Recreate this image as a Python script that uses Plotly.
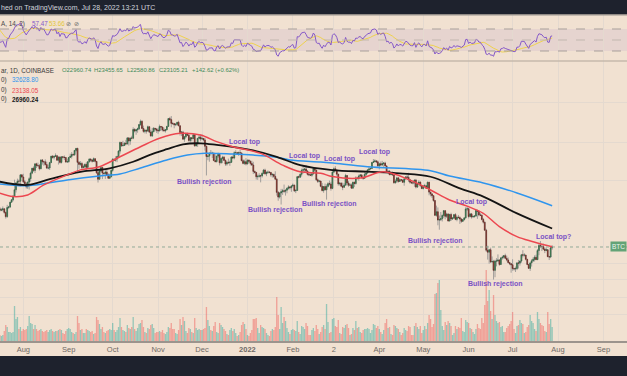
import numpy as np
import pandas as pd
import plotly.graph_objects as go

# ---------------- data (prices in thousand USD, volume in thousand BTC) ----------------
first_open = 35.04  # close of 2021-06-30
closes = [
    # Jul 2021
    33.53, 33.83, 34.66, 35.29, 33.69, 34.22, 33.86, 32.88, 33.81, 33.52, 34.24, 33.15, 32.70, 32.82, 31.78, 31.42,
    31.52, 31.78, 30.84, 29.79, 32.14, 32.29, 33.60, 34.27, 35.40, 37.28, 39.46, 40.03, 40.02, 42.21, 41.46,
    # Aug 2021
    39.85, 39.15, 38.19, 39.74, 40.87, 42.83, 44.61, 43.82, 46.28, 45.60, 45.56, 44.43, 47.82, 47.10, 47.05, 46.00,
    44.69, 44.70, 46.76, 49.34, 48.87, 49.29, 49.51, 47.70, 48.96, 46.85, 49.08, 48.90, 48.81, 46.99, 47.13,
    # Sep 2021
    48.81, 49.25, 50.03, 49.94, 51.77, 52.66, 46.86, 46.07, 46.40, 44.85, 45.16, 46.06, 44.96, 47.11, 48.15, 47.76,
    47.30, 48.31, 47.25, 42.99, 40.71, 43.57, 44.89, 42.84, 42.72, 43.21, 42.20, 41.03, 41.52, 43.82,
    # Oct 2021
    48.14, 47.65, 48.21, 49.24, 51.49, 55.34, 53.80, 53.96, 54.97, 54.68, 57.48, 56.01, 57.37, 57.35, 61.67, 60.88,
    61.53, 62.02, 64.28, 66.00, 62.20, 60.69, 61.31, 60.86, 63.09, 60.33, 58.46, 60.60, 62.25, 61.88, 61.32,
    # Nov 2021
    61.00, 63.23, 62.94, 61.44, 61.00, 61.53, 63.30, 67.55, 66.94, 64.88, 64.81, 64.16, 64.40, 65.50, 63.62, 60.11,
    60.36, 56.89, 58.07, 59.69, 58.73, 56.29, 57.57, 57.17, 58.96, 53.74, 54.74, 57.28, 57.80, 56.98,
    # Dec 2021
    57.23, 56.51, 53.60, 49.20, 49.38, 50.58, 50.49, 50.58, 47.57, 47.15, 49.39, 50.10, 46.72, 48.38, 48.89, 47.64,
    46.20, 46.85, 46.70, 46.88, 49.00, 48.60, 50.82, 50.83, 50.43, 50.80, 50.70, 47.54, 46.46, 47.12, 46.21,
    # Jan 2022
    47.74, 47.31, 46.44, 45.83, 43.43, 43.09, 41.55, 41.69, 41.86, 41.83, 42.74, 43.92, 42.59, 43.10, 43.18, 43.09,
    42.21, 42.38, 41.68, 40.70, 36.48, 35.07, 36.28, 36.66, 36.95, 36.82, 37.15, 37.71, 38.17, 37.92, 38.48,
    # Feb 2022
    38.74, 36.95, 37.08, 41.57, 41.41, 42.41, 43.84, 44.08, 44.34, 43.56, 42.39, 42.21, 42.07, 42.55, 44.56, 43.88,
    40.52, 40.00, 40.10, 38.37, 37.02, 38.27, 37.26, 38.34, 39.22, 39.11, 37.70, 43.19,
    # Mar 2022
    44.42, 43.92, 42.46, 39.15, 39.40, 38.42, 38.06, 38.74, 41.98, 39.44, 38.73, 38.81, 37.78, 39.67, 39.28, 41.14,
    40.95, 41.80, 42.20, 41.27, 41.02, 42.37, 42.90, 44.00, 44.33, 44.54, 46.83, 47.13, 47.44, 47.07, 45.53,
    # Apr 2022
    46.31, 45.83, 46.41, 46.60, 45.50, 43.17, 43.45, 42.28, 42.78, 42.16, 39.53, 40.08, 41.15, 39.94, 40.56, 40.39,
    39.68, 40.80, 41.50, 41.37, 40.48, 39.71, 39.46, 39.45, 40.43, 38.12, 39.24, 39.74, 38.60, 37.64,
    # May 2022
    38.47, 38.53, 37.75, 39.69, 36.55, 36.01, 35.47, 34.06, 30.10, 31.01, 28.94, 29.04, 29.28, 30.08, 31.30, 29.86,
    30.42, 28.70, 30.31, 29.20, 29.43, 30.28, 29.10, 29.65, 29.54, 29.20, 28.63, 29.03, 29.47, 31.73, 31.80,
    # Jun 2022
    29.80, 30.46, 29.70, 29.86, 29.91, 31.37, 31.13, 30.20, 30.11, 29.08, 28.42, 26.58, 22.49, 22.13, 22.58, 20.40,
    20.47, 19.01, 20.55, 20.56, 20.72, 19.97, 21.09, 21.23, 21.49, 21.03, 20.73, 20.28, 20.10, 19.93,
    # Jul 2022
    19.30, 19.24, 19.30, 20.23, 20.19, 20.55, 21.64, 21.59, 21.60, 20.85, 19.95, 19.33, 20.23, 20.58, 20.83, 21.20,
    20.79, 22.43, 23.40, 23.24, 23.16, 22.69, 22.45, 22.58, 21.31, 21.25, 22.96074, 23.10521,
]
highs = [
    35.05, 33.95, 34.95, 35.95, 35.30, 35.05, 34.90, 33.92, 34.10, 34.26, 34.60, 34.65, 33.33, 33.10, 33.20, 32.25,
    31.95, 32.42, 31.89, 31.06, 32.86, 32.58, 33.65, 34.48, 35.40, 40.55, 39.55, 40.90, 40.63, 42.30, 42.42,
    42.60, 40.45, 39.78, 39.95, 41.38, 43.39, 44.72, 45.31, 46.45, 46.70, 46.75, 46.22, 47.89, 48.15, 47.39, 48.05,
    47.15, 46.00, 47.05, 49.38, 49.77, 49.50, 50.50, 49.85, 49.23, 49.37, 49.17, 49.30, 49.63, 48.91, 48.25,
    48.95, 50.37, 51.05, 50.55, 51.90, 52.78, 52.92, 47.37, 47.35, 47.05, 45.98, 46.42, 46.88, 47.25, 48.48, 48.50,
    48.15, 48.82, 48.36, 47.33, 43.62, 44.00, 44.98, 45.15, 42.99, 43.93, 44.35, 42.80, 42.62, 44.12,
    48.48, 48.35, 49.30, 49.50, 51.90, 55.75, 55.34, 56.10, 55.45, 56.55, 57.80, 57.70, 57.65, 58.52, 62.80, 62.35,
    61.70, 62.65, 64.45, 66.99, 66.63, 63.70, 61.73, 61.48, 63.71, 63.28, 61.48, 62.48, 62.96, 62.35, 62.40,
    62.43, 64.25, 63.50, 63.10, 62.60, 61.58, 63.30, 67.80, 68.53, 69.00, 65.60, 65.00, 65.00, 65.55, 66.35, 63.62,
    60.85, 60.96, 58.35, 59.85, 60.00, 59.30, 57.85, 57.75, 59.40, 59.18, 55.30, 57.45, 58.85, 59.20,
    59.08, 57.40, 57.60, 53.85, 49.70, 50.89, 51.93, 51.20, 50.80, 50.10, 49.47, 50.80, 50.20, 48.65, 49.50, 49.40,
    47.99, 47.35, 48.35, 47.55, 49.30, 49.60, 51.38, 51.85, 51.17, 51.28, 52.05, 50.70, 48.12, 47.90, 48.55,
    47.94, 47.98, 47.57, 47.50, 47.07, 43.75, 43.14, 42.30, 42.79, 42.25, 43.10, 44.35, 44.45, 43.45, 43.80, 43.48,
    43.18, 42.70, 42.55, 43.50, 41.10, 36.85, 36.50, 37.55, 37.55, 38.92, 37.22, 38.00, 38.70, 38.35, 38.74,
    39.26, 38.85, 37.40, 41.74, 41.95, 42.65, 44.50, 45.50, 44.80, 45.82, 43.92, 42.99, 42.75, 42.85, 44.75, 44.58,
    44.17, 40.95, 40.48, 40.13, 39.45, 38.43, 39.25, 39.00, 39.70, 40.25, 39.85, 44.20,
    44.95, 45.40, 44.10, 42.50, 39.60, 39.65, 39.55, 39.40, 42.58, 42.05, 40.15, 39.35, 39.30, 39.90, 39.90, 41.72,
    41.48, 42.33, 42.40, 42.30, 41.55, 43.35, 43.03, 44.25, 45.05, 44.80, 46.90, 48.19, 48.10, 47.70, 47.60,
    46.70, 47.20, 47.45, 46.88, 47.10, 45.52, 43.90, 43.95, 42.80, 43.40, 42.42, 40.70, 41.55, 41.50, 40.90, 40.70,
    40.60, 41.10, 41.75, 42.20, 42.95, 40.80, 39.95, 39.90, 40.60, 40.80, 39.45, 40.35, 39.90, 38.80,
    38.66, 39.16, 38.65, 39.90, 39.80, 36.65, 36.12, 35.50, 34.24, 32.65, 32.15, 30.05, 30.95, 30.30, 31.40, 31.30,
    30.75, 30.65, 30.50, 30.75, 29.60, 30.45, 30.65, 29.82, 30.20, 29.85, 29.36, 29.20, 29.55, 32.20, 32.40,
    31.97, 30.65, 30.70, 29.95, 30.18, 31.75, 31.55, 31.33, 30.70, 30.35, 29.45, 28.55, 26.90, 23.35, 22.75, 22.98,
    21.35, 20.75, 20.77, 21.05, 21.72, 20.87, 21.20, 21.50, 21.60, 21.85, 21.50, 21.17, 20.40, 20.17,
    20.86, 19.43, 19.62, 20.32, 20.73, 20.65, 21.80, 22.50, 21.95, 21.62, 20.87, 20.05, 20.24, 20.88, 21.20, 21.55,
    21.66, 22.72, 23.78, 24.28, 23.43, 23.76, 22.99, 23.00, 22.65, 21.35, 23.10, 23.45565,
]
lows = [
    32.72, 32.70, 33.35, 34.43, 33.15, 33.55, 33.70, 32.10, 32.26, 33.00, 33.30, 32.70, 32.28, 31.60, 31.55, 31.10,
    31.17, 31.12, 30.50, 29.30, 29.50, 31.73, 32.00, 33.45, 33.85, 35.23, 36.42, 38.80, 38.98, 38.35, 41.10,
    39.42, 38.70, 37.63, 37.51, 37.33, 39.85, 42.45, 43.27, 42.85, 44.70, 45.35, 43.78, 44.25, 45.98, 45.55, 45.70,
    44.40, 44.22, 43.96, 46.64, 48.30, 48.02, 49.05, 47.60, 46.00, 46.36, 46.40, 48.37, 47.79, 46.87, 46.70,
    46.75, 48.62, 48.38, 49.51, 49.45, 50.97, 42.84, 44.40, 45.52, 44.15, 44.75, 44.75, 43.40, 44.70, 46.72, 47.05,
    46.80, 47.05, 46.85, 42.51, 39.60, 40.60, 43.10, 40.75, 41.65, 40.80, 42.10, 40.90, 40.80, 41.42,
    43.30, 47.45, 47.12, 46.94, 49.08, 50.40, 53.40, 53.65, 53.71, 54.10, 54.42, 53.90, 54.30, 56.86, 56.88, 60.18,
    58.98, 60.00, 61.35, 63.58, 62.05, 60.03, 59.70, 59.55, 60.66, 59.88, 58.11, 57.90, 60.20, 60.75, 59.95,
    59.50, 60.70, 60.95, 60.70, 60.75, 60.10, 61.35, 63.10, 66.35, 62.82, 64.10, 62.30, 63.40, 63.60, 63.36, 58.60,
    58.35, 56.50, 55.60, 57.45, 58.50, 55.70, 55.40, 55.85, 57.05, 53.55, 53.65, 53.30, 56.70, 55.88,
    56.45, 55.85, 51.70, 42.00, 47.70, 47.10, 50.04, 48.60, 47.35, 46.90, 46.80, 48.60, 45.67, 46.33, 46.55, 47.50,
    45.50, 45.56, 46.40, 45.55, 46.65, 48.45, 48.05, 50.45, 50.20, 49.45, 50.50, 47.30, 46.10, 45.90, 45.68,
    46.21, 46.64, 45.70, 45.50, 42.50, 42.65, 40.61, 40.50, 41.25, 39.65, 41.27, 42.45, 42.33, 41.75, 42.60, 42.70,
    41.55, 41.25, 41.15, 40.62, 35.50, 34.01, 34.62, 32.95, 35.70, 36.25, 35.50, 36.20, 37.30, 37.35, 36.63,
    38.20, 36.60, 36.25, 36.96, 40.97, 41.15, 41.65, 42.68, 43.15, 43.20, 42.00, 41.75, 41.85, 41.56, 42.42, 43.32,
    40.12, 39.45, 39.65, 38.05, 36.80, 36.35, 37.05, 34.32, 38.00, 38.60, 37.00, 37.45,
    42.86, 43.35, 41.85, 38.55, 38.60, 38.10, 37.15, 37.85, 38.65, 38.55, 38.22, 38.65, 37.60, 37.58, 38.12, 38.90,
    40.55, 40.20, 41.53, 40.90, 40.50, 40.90, 41.75, 42.60, 43.65, 44.10, 44.40, 46.65, 46.95, 46.58, 45.20,
    44.20, 45.60, 45.52, 45.12, 45.40, 43.10, 42.73, 42.12, 42.13, 41.90, 39.20, 39.25, 39.55, 39.55, 39.77, 40.02,
    39.55, 38.55, 40.57, 40.85, 39.75, 39.20, 39.30, 39.00, 38.20, 37.70, 37.88, 38.88, 38.20, 37.60,
    37.39, 38.05, 37.52, 37.70, 35.60, 35.27, 34.80, 33.72, 30.05, 29.75, 27.70, 26.70, 28.70, 28.60, 29.48, 29.10,
    29.45, 28.65, 28.70, 28.72, 28.95, 29.25, 28.90, 28.65, 29.35, 28.02, 28.25, 28.55, 28.85, 29.30, 31.20,
    29.33, 29.58, 29.28, 29.48, 29.52, 29.88, 29.23, 29.85, 29.95, 28.85, 28.10, 26.55, 22.20, 20.80, 20.10, 20.23,
    20.25, 17.60, 17.95, 19.65, 20.35, 19.75, 19.88, 20.80, 20.95, 20.95, 20.50, 20.18, 19.85, 18.63,
    18.95, 18.98, 18.75, 19.05, 19.30, 19.78, 20.25, 21.18, 21.32, 20.65, 19.90, 19.25, 18.92, 19.62, 20.38, 20.47,
    20.75, 20.77, 21.58, 22.93, 22.34, 22.50, 21.95, 22.30, 21.25, 20.72, 21.05, 22.58086,
]
volumes = [
    10, 8, 6, 7, 11, 9, 10, 12, 10, 6, 6, 11, 10, 10, 11, 6, 5, 6, 10, 16, 14, 9, 9, 8, 9, 35, 22, 24, 12, 14, 10,
    12, 11, 12, 15, 25, 18, 17, 12, 16, 12, 10, 11, 12, 10, 9, 10, 11, 9, 11, 12, 10, 9, 10, 10, 11, 12, 11, 8, 7, 10, 12,
    13, 12, 9, 8, 7, 9, 25, 18, 11, 12, 8, 8, 12, 11, 10, 9, 10, 7, 8, 24, 21, 17, 12, 14, 9, 8, 10, 11, 12, 11,
    18, 11, 9, 11, 14, 23, 14, 11, 10, 9, 16, 13, 12, 14, 24, 12, 10, 13, 17, 18, 21, 14, 9, 8, 13, 12, 16, 17, 13, 8, 9,
    9, 10, 9, 11, 8, 7, 9, 14, 13, 18, 12, 12, 8, 7, 11, 22, 16, 24, 20, 10, 8, 13, 12, 9, 8, 23, 13, 11, 12, 11,
    11, 12, 13, 34, 21, 15, 11, 10, 15, 19, 9, 8, 18, 16, 14, 12, 10, 7, 6, 11, 13, 10, 12, 8, 5, 6, 9, 16, 19, 17, 12,
    6, 5, 8, 11, 22, 22, 23, 13, 8, 16, 14, 13, 12, 8, 6, 5, 10, 12, 11, 14, 44, 26, 12, 34, 18, 24, 20, 13, 9, 7, 11,
    12, 11, 10, 20, 9, 7, 15, 14, 12, 18, 15, 6, 6, 11, 13, 10, 16, 12, 7, 9, 14, 16, 12, 37, 19, 8, 9, 22,
    23, 15, 14, 21, 8, 7, 14, 13, 16, 17, 13, 6, 7, 13, 11, 20, 13, 14, 9, 8, 11, 12, 12, 13, 12, 8, 11, 17, 16, 13, 15,
    12, 9, 7, 11, 18, 22, 13, 14, 7, 6, 16, 15, 13, 12, 9, 6, 8, 13, 11, 10, 15, 14, 6, 6, 15, 18, 14, 12, 15, 8,
    11, 15, 12, 18, 26, 22, 14, 17, 47, 48, 58, 61, 31, 15, 11, 19, 16, 20, 18, 15, 6, 8, 15, 12, 14, 13, 23, 10, 9, 21, 19,
    18, 13, 12, 9, 7, 12, 17, 13, 12, 23, 18, 36, 71, 40, 51, 30, 22, 46, 26, 20, 18, 19, 14, 15, 9, 9, 13, 15, 17, 20,
    29, 12, 8, 15, 16, 21, 18, 17, 8, 9, 14, 16, 26, 20, 18, 12, 10, 29, 22, 18, 16, 15, 10, 9, 29, 17, 22, 14,
]

# moving averages (USD)
ma50_dates = ["2021-07-16", "2021-07-25", "2021-08-04", "2021-08-15", "2021-08-31", "2021-09-09", "2021-09-22",
              "2021-10-06", "2021-10-20", "2021-11-02", "2021-11-16", "2021-11-30", "2021-12-11", "2021-12-22",
              "2022-01-10", "2022-01-25", "2022-02-06", "2022-02-20", "2022-02-28", "2022-03-19", "2022-04-04",
              "2022-04-22", "2022-05-06", "2022-05-19", "2022-05-31", "2022-06-11", "2022-06-22", "2022-07-04",
              "2022-07-15", "2022-07-28"]
ma50_values = [36200, 35200, 35700, 38800, 42200, 44000, 45200, 49100, 53400, 57300, 59700, 58900, 55700, 53400,
               50500, 45800, 43300, 42800, 41600, 41100, 43300, 40400, 37200, 34200, 32500, 30600, 27400, 25200,
               24150, 23138]
ma100_dates = ["2021-07-16", "2021-08-04", "2021-08-19", "2021-09-09", "2021-09-29", "2021-10-15", "2021-10-26",
               "2021-11-07", "2021-11-18", "2021-11-30", "2021-12-11", "2022-01-03", "2022-01-21", "2022-02-06",
               "2022-02-28", "2022-03-24", "2022-04-15", "2022-05-06", "2022-05-26", "2022-06-11", "2022-07-04",
               "2022-07-28"]
ma100_values = [39870, 38800, 40700, 43300, 44600, 47100, 49800, 52300, 54500, 54950, 54200, 52000, 49100, 45800,
                43950, 43350, 42750, 41550, 37700, 35200, 30600, 26960]
ma200_dates = ["2021-07-16", "2021-08-04", "2021-08-31", "2021-09-22", "2021-10-06", "2021-10-20", "2021-11-07",
               "2021-11-21", "2021-12-03", "2021-12-22", "2022-01-05", "2022-01-21", "2022-01-30", "2022-02-20",
               "2022-02-28", "2022-03-24", "2022-05-06", "2022-05-19", "2022-06-11", "2022-07-04", "2022-07-28"]
ma200_values = [39100, 38550, 40450, 41800, 42500, 44700, 47800, 49800, 50550, 50250, 49800, 48900, 47800, 47000,
                46600, 45200, 43700, 41800, 39450, 36300, 32629]

month_ticks = ["2021-08-01", "2021-09-01", "2021-10-01", "2021-11-01", "2021-12-01", "2022-01-01", "2022-02-01",
               "2022-03-01", "2022-04-01", "2022-05-01", "2022-06-01", "2022-07-01", "2022-08-01", "2022-09-01"]
month_labels = ["Aug", "Sep", "Oct", "Nov", "Dec", "<b>2022</b>", "Feb", "2", "Apr", "May", "Jun", "Jul", "Aug", "Sep"]

note_texts = ["Local top", "Local top", "Local top", "Local top", "Local top", "Local top?",
              "Bullish rejection", "Bullish rejection", "Bullish rejection", "Bullish rejection", "Bullish rejection"]
note_dates = ["2021-12-30", "2022-02-09", "2022-03-05", "2022-03-29", "2022-06-03", "2022-07-29",
              "2021-12-02", "2022-01-20", "2022-02-26", "2022-05-09", "2022-06-19"]
note_prices = [55690, 49580, 48070, 50970, 33730, 25180, 39870, 31470, 33175, 24230, 16960]

# ---------------- derived series ----------------
n = min(len(closes), len(highs), len(lows), len(volumes))
dates = pd.date_range(end="2022-07-28", periods=n, freq="D")
c = np.array(closes[-n:]) * 1000
o = np.r_[first_open, closes[:-1]][-n:] * 1000
h = np.array(highs[-n:]) * 1000
l = np.array(lows[-n:]) * 1000
v = np.array(volumes[-n:], dtype=float)
body_hi = np.maximum(o, c)
body_lo = np.minimum(o, c)

s = pd.Series(c)
d = s.diff()
gain = d.clip(lower=0).ewm(alpha=1 / 14, adjust=False).mean()
loss = (-d.clip(upper=0)).ewm(alpha=1 / 14, adjust=False).mean()
rsi = 100 - 100 / (1 + gain / loss)
rsi_ma = rsi.rolling(14, min_periods=1).mean()

# ---------------- geometry ----------------
W, H = 627, 376
def py(px):
    return 1 - px / H

BG = "#f1e1d1"
DARK = "#1e222d"
FONT = "Liberation Sans, Arial, sans-serif"
x_range = ["2021-07-16 02:00", "2022-09-17 02:30"]
price_top, price_bot = 109282, 10535
price_grid = [13100, 15100, 17600, 20200, 40400, 55500, 77000]

fig = go.Figure()

vol_colors = np.where(c >= o, "rgba(38,166,154,0.45)", "rgba(239,83,80,0.45)")
fig.add_trace(go.Bar(x=dates, y=v, marker=dict(color=vol_colors, line=dict(width=0)),
                     width=86400000 * 0.9, xaxis="x", yaxis="y", hoverinfo="skip", showlegend=False))

# wicks
fig.add_trace(go.Candlestick(x=dates, open=o, high=h, low=l, close=c, xaxis="x", yaxis="y2",
                             increasing=dict(line=dict(color="#8e8e8e", width=0.8), fillcolor="rgba(0,0,0,0)"),
                             decreasing=dict(line=dict(color="#8e8e8e", width=0.8), fillcolor="rgba(0,0,0,0)"),
                             whiskerwidth=0, hoverinfo="skip", showlegend=False))
# bodies
fig.add_trace(go.Candlestick(x=dates, open=o, high=body_hi, low=body_lo, close=c, xaxis="x", yaxis="y2",
                             increasing=dict(line=dict(color="#2c5a3a", width=0.6), fillcolor="#4fa36a"),
                             decreasing=dict(line=dict(color="#5a231d", width=0.6), fillcolor="#c8463b"),
                             whiskerwidth=0, hoverinfo="skip", showlegend=False))

for dts, vals, col, wd in [(ma200_dates, ma200_values, "#2f95ee", 1.5),
                           (ma100_dates, ma100_values, "#141414", 1.8),
                           (ma50_dates, ma50_values, "#ec4750", 1.5)]:
    fig.add_trace(go.Scatter(x=dts, y=vals, mode="lines", xaxis="x", yaxis="y2",
                             line=dict(color=col, width=wd, shape="spline", smoothing=1.0),
                             hoverinfo="skip", showlegend=False))

# last price line
fig.add_trace(go.Scatter(x=x_range, y=[c[-1], c[-1]], mode="lines", xaxis="x", yaxis="y2",
                         line=dict(color="#93aa99", width=1, dash="dot"), hoverinfo="skip", showlegend=False))

# RSI
fig.add_trace(go.Scatter(x=dates, y=rsi_ma, mode="lines", xaxis="x2", yaxis="y3",
                         line=dict(color="#efd24c", width=1), hoverinfo="skip", showlegend=False))
fig.add_trace(go.Scatter(x=dates, y=rsi, mode="lines", xaxis="x2", yaxis="y3",
                         line=dict(color="#8558c8", width=1), hoverinfo="skip", showlegend=False))

shapes = [
    dict(type="rect", xref="paper", yref="y3", x0=0, x1=1, y0=30, y1=70, fillcolor="rgba(126,87,194,0.09)",
         line=dict(width=0), layer="below"),
    dict(type="line", xref="paper", yref="y3", x0=0, x1=1, y0=70, y1=70, line=dict(color="#a79f9a", width=1, dash="dash")),
    dict(type="line", xref="paper", yref="y3", x0=0, x1=1, y0=50, y1=50, line=dict(color="#c2b8b0", width=1, dash="dash")),
    dict(type="line", xref="paper", yref="y3", x0=0, x1=1, y0=30, y1=30, line=dict(color="#a79f9a", width=1, dash="dash")),
    dict(type="line", xref="paper", yref="paper", x0=0, x1=1, y0=py(61), y1=py(61), line=dict(color="#c6b8ab", width=1.5)),
    dict(type="rect", xref="paper", yref="paper", x0=0, x1=1, y0=py(14.5), y1=1.01, fillcolor=DARK, line=dict(width=0)),
    dict(type="line", xref="paper", yref="paper", x0=0, x1=1, y0=py(15), y1=py(15), line=dict(color="#9a958f", width=1)),
    dict(type="rect", xref="paper", yref="paper", x0=0, x1=1, y0=-0.01, y1=py(356), fillcolor=DARK, line=dict(width=0)),
]

ann = []
def txt(x_px, y_px, text, color, size=6.3, anchor="left", bold=False):
    ann.append(dict(xref="paper", yref="paper", x=x_px / W, y=py(y_px), text=(f"<b>{text}</b>" if bold else text),
                    showarrow=False, xanchor=anchor, yanchor="middle", borderpad=0,
                    font=dict(family=FONT, size=size, color=color)))

txt(0, 8, "hed on TradingView.com, Jul 28, 2022 13:21 UTC", "#d1d4dc", 7.0)
txt(0, 24, "A, 14, 2)", "#4a4a4a")
txt(31, 24, "57.47", "#8558c8")
txt(48, 24, "53.66", "#e3c63a")
txt(65, 24, "⊘", "#6a6a6a")
txt(73, 24, "⊘", "#6a6a6a")
txt(0, 70, "ar, 1D, COINBASE", "#3a3a3a")
txt(61, 70, "O22960.74", "#3f8a5a", 5.9)
txt(93, 70, "H23455.65", "#3f8a5a", 5.9)
txt(126, 70, "L22580.86", "#3f8a5a", 5.9)
txt(158, 70, "C23105.21", "#3f8a5a", 5.9)
txt(191, 70, "+142.62 (+0.62%)", "#3f8a5a", 5.9)
txt(0, 80, "0)", "#3a3a3a")
txt(11, 80, "32628.80", "#2f95ee")
txt(0, 90, "0)", "#3a3a3a")
txt(11, 90, "23138.05", "#ec4750")
txt(0, 99, "0)", "#3a3a3a")
txt(11, 99, "26960.24", "#1a1a1a", bold=True)

for t, dt, pr in zip(note_texts, note_dates, note_prices):
    ann.append(dict(xref="x", yref="y2", x=dt, y=float(np.log10(pr)), text=f"<b>{t}</b>", showarrow=False,
                    xanchor="center", yanchor="middle", font=dict(family=FONT, size=7, color="#7b52c4")))

ann.append(dict(xref="paper", yref="y2", x=1, y=float(np.log10(c[-1])), text="BTC", showarrow=False,
                xanchor="right", yanchor="middle", bgcolor="#63a377", borderpad=1,
                font=dict(family=FONT, size=6.5, color="#eaf5ec")))

fig.update_layout(
    width=W, height=H, margin=dict(l=0, r=0, t=0, b=0),
    paper_bgcolor=BG, plot_bgcolor=BG, showlegend=False, dragmode=False,
    font=dict(family=FONT),
    xaxis=dict(domain=[0, 1], anchor="y", type="date", range=x_range, rangeslider=dict(visible=False),
               tickmode="array", tickvals=month_ticks, ticktext=month_labels,
               tickfont=dict(size=7.5, color="#6e6965"), ticks="", showgrid=True, gridcolor="#e4d9cf", gridwidth=1,
               showline=True, linecolor="#9c948d", linewidth=1.5, zeroline=False),
    yaxis=dict(domain=[py(341), py(61)], anchor="x", range=[0, 280], showgrid=False, showticklabels=False,
               zeroline=False, fixedrange=True),
    yaxis2=dict(overlaying="y", anchor="x", type="log", range=[np.log10(price_bot), np.log10(price_top)],
                tickmode="array", tickvals=price_grid, showticklabels=False, showgrid=True,
                gridcolor="#e4d9cf", gridwidth=1, zeroline=False),
    xaxis2=dict(domain=[0, 1], anchor="y3", type="date", range=x_range, tickmode="array", tickvals=month_ticks,
                showticklabels=False, ticks="", showgrid=True, gridcolor="#e4d9cf", zeroline=False),
    yaxis3=dict(domain=[py(61), py(15)], anchor="x2", range=[11.8, 95.45], showgrid=False,
                showticklabels=False, zeroline=False),
    shapes=shapes, annotations=ann,
)

fig.write_html("out.html", config={"displayModeBar": False},
               post_script="document.body.style.margin='0';document.body.style.padding='0';"
                           "document.body.style.overflow='hidden';document.body.style.background='" + BG + "';")
